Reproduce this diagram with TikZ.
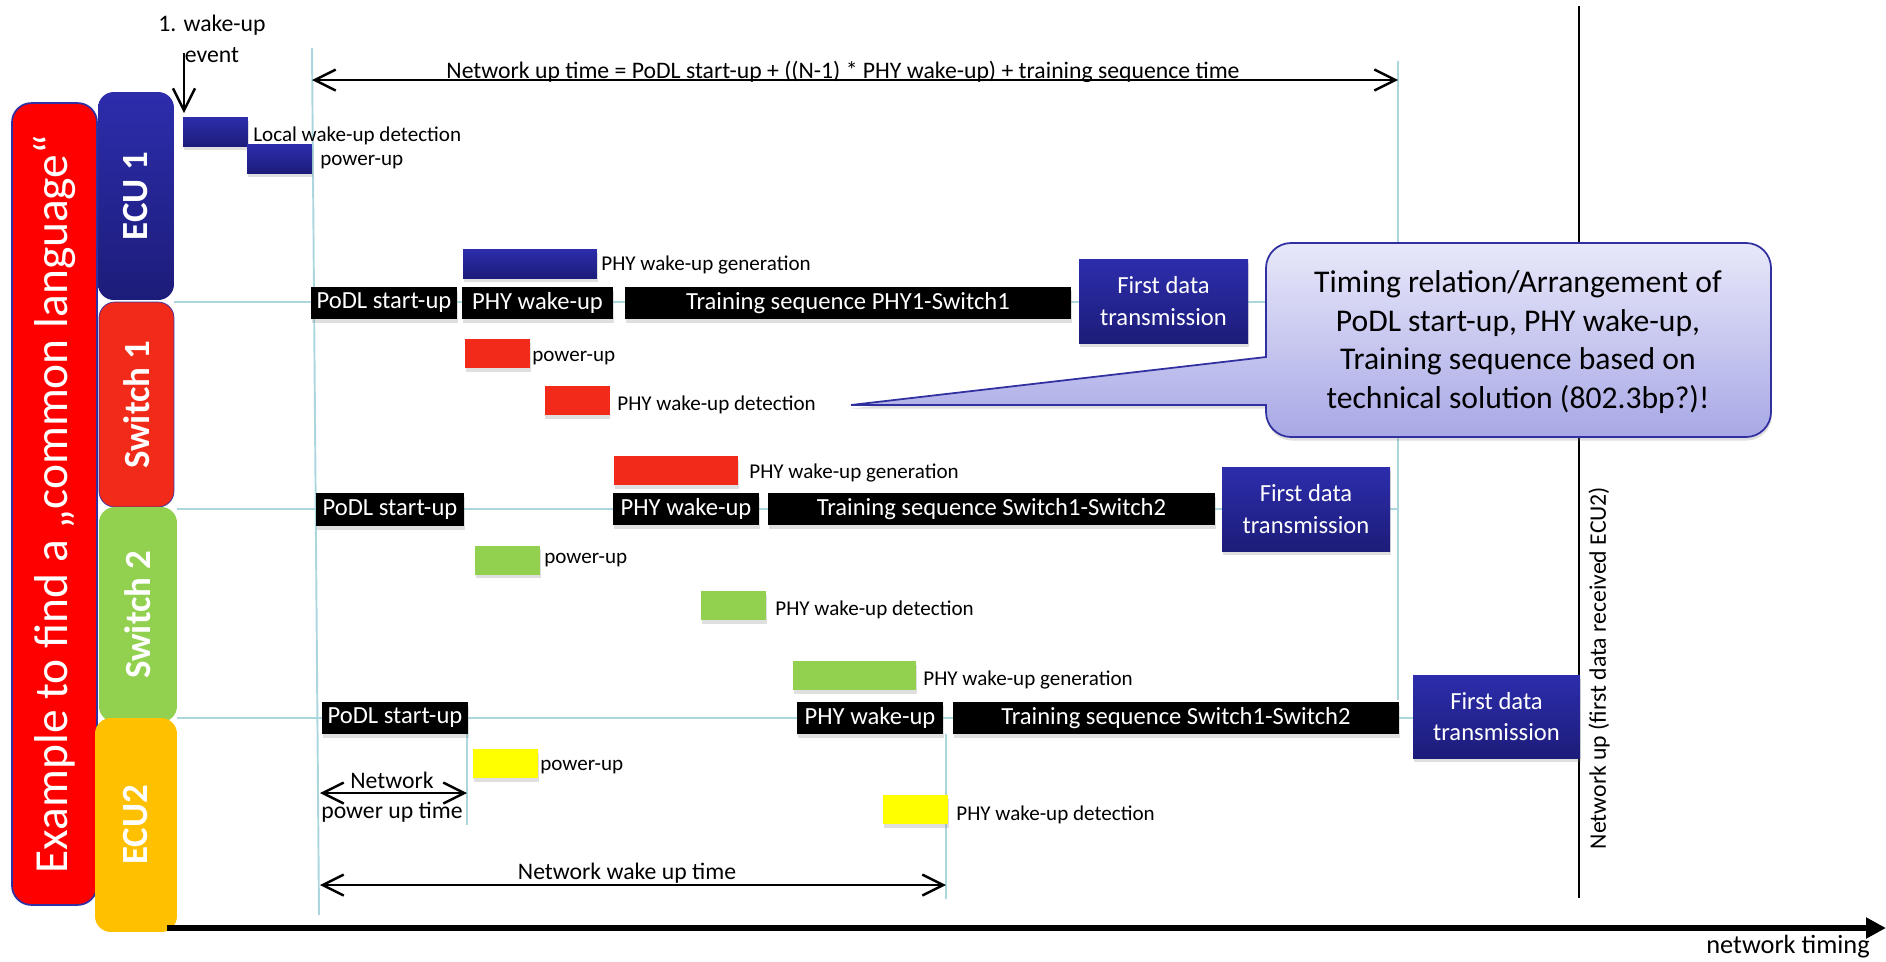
\documentclass[tikz,border=0pt]{standalone}
\usepackage{fontspec}
\setmainfont{Carlito}
\usepackage{tikz}
\usetikzlibrary{arrows.meta,shadows}
\definecolor{barbluetop}{RGB}{45,45,172}
\definecolor{barbluebot}{RGB}{28,28,122}
\definecolor{switchred}{RGB}{242,42,26}
\definecolor{langred}{RGB}{255,0,0}
\definecolor{switchgreen}{RGB}{146,208,80}
\definecolor{ecuorange}{RGB}{255,192,0}
\definecolor{ecuyellow}{RGB}{255,255,0}
\definecolor{gridteal}{RGB}{172,214,222}
\definecolor{notetop}{RGB}{232,232,250}
\definecolor{notebottom}{RGB}{168,168,230}
\definecolor{noteedge}{RGB}{48,48,160}

\begin{document}
\begin{tikzpicture}[x=0.02cm, y=-0.02cm,
    every node/.style={font=\fontsize{13.5}{16}\selectfont},
    soft/.style={drop shadow={shadow xshift=0.5pt, shadow yshift=-2pt, opacity=0.25}},
    bluefill/.style={top color=barbluetop, bottom color=barbluebot},
    lane/.style={rotate=90, rounded corners=9pt, inner sep=0pt, text=white, font=\fontsize{21}{24}\selectfont\bfseries},
    blip/.style={minimum width=1.3cm, minimum height=0.58cm, inner sep=0pt, soft},
    blipnote/.style={anchor=west, inner sep=0pt, font=\fontsize{12}{14}\selectfont},
    phase/.style={fill=black, text=white, inner sep=0pt, minimum height=0.64cm, soft, font=\fontsize{14}{16}\selectfont},
    datatx/.style={bluefill, text=white, align=center, inner sep=0pt, minimum width=3.38cm, minimum height=1.68cm, font=\fontsize{14}{18}\selectfont, soft},
    guide/.style={draw=gridteal, line width=1.1pt},
    span/.style={<->, >={Straight Barb[length=0.42cm,width=0.42cm]}, line width=1.4pt}
]
    \useasboundingbox (0,0) rectangle (1886,961);

    % Guide lines behind the time bars
    \coordinate (g0t) at (312,48);   \coordinate (g0b) at (319,915);
    \coordinate (g1t) at (1398,61);  \coordinate (g1b) at (1398,700);
    \coordinate (h1a) at (174,302);  \coordinate (h1b) at (1398,302);
    \coordinate (h2a) at (177,509);  \coordinate (h2b) at (1398,509);
    \coordinate (h3a) at (177,718);  \coordinate (h3b) at (1413,718);
    \coordinate (v2a) at (467,734);  \coordinate (v2b) at (467,825);
    \coordinate (v3a) at (946,734);  \coordinate (v3b) at (946,899);
    \draw[guide] (g0t) -- (g0b);
    \draw[guide] (g1t) -- (g1b);
    \draw[guide] (h1a) -- (h1b);
    \draw[guide] (h2a) -- (h2b);
    \draw[guide] (h3a) -- (h3b);
    \draw[guide] (v2a) -- (v2b);
    \draw[guide] (v3a) -- (v3b);

    % Network up marker
    \coordinate (up-a) at (1579,6); \coordinate (up-b) at (1579,898);
    \draw[line width=1.4pt] (up-a) -- (up-b);
    \node[rotate=90] (netup) at (1599,668) {Network up (first data received ECU2)};

    % Lanes on the left
    \node[lane, fill=langred, draw=noteedge, line width=1pt, rounded corners=11pt, minimum width=16.04cm, minimum height=1.7cm, font=\fontsize{27}{30}\selectfont] (lang) at (54.5,504) {Example to find a „common language“};
    \node[lane, top color=barbluetop, bottom color=barbluebot, minimum width=4.16cm, minimum height=1.52cm] (ecu1) at (136,196) {ECU 1};
    \node[lane, fill=switchred, draw=noteedge, minimum width=4.1cm, minimum height=1.5cm] (sw1) at (136.5,404.5) {Switch 1};
    \node[lane, fill=switchgreen, minimum width=4.3cm, minimum height=1.56cm] (sw2) at (138,614.5) {Switch 2};
    \node[lane, fill=ecuorange, minimum width=4.28cm, minimum height=1.64cm] (ecu2) at (136,825) {ECU2};

    % Time axis
    \coordinate (t0) at (167,928); \coordinate (t1) at (1886,928);
    \draw[line width=3.4pt, -{Triangle[length=0.4cm,width=0.4cm]}] (t0) -- (t1);
    \node[font=\fontsize{15}{18}\selectfont] (timing) at (1788,947) {network timing};

    % Wake-up event
    \node[align=center, inner sep=0pt, font=\fontsize{13.5}{18}\selectfont] (event) at (212,39) {1. wake-up\\event};
    \coordinate (ev-a) at (184,53); \coordinate (ev-b) at (184,113);
    \draw[->, >={Straight Barb[length=0.44cm,width=0.44cm]}, line width=1.4pt] (ev-a) -- (ev-b);

    % Overall network up time
    \coordinate (nut-a) at (312,80); \coordinate (nut-b) at (1398,80);
    \draw[span] (nut-a) -- (nut-b);
    \node[anchor=base, inner sep=0pt] (nut) at (843,78) {Network up time = PoDL start-up + ((N-1) * PHY wake-up) + training sequence time};

    % ECU 1 row
    \node[blip, bluefill] (lwd) at (215.5,132) {};
    \node[blipnote] (lwd-txt) at (253,136) {Local wake-up detection};
    \node[blip, bluefill] (pwr1) at (279.5,159) {};
    \node[blipnote] (pwr1-txt) at (320,162) {power-up};
    \node[blip, bluefill, minimum width=2.68cm] (gen1) at (530,263.5) {};
    \node[blipnote] (gen1-txt) at (601,265) {PHY wake-up generation};
    \node[phase, minimum width=2.92cm] (podl1) at (384,303) {PoDL start-up};
    \node[phase, minimum width=3.02cm] (phy1) at (537.5,303) {PHY wake-up};
    \node[phase, minimum width=8.92cm] (train1) at (848,303) {Training sequence PHY1-Switch1};
    \node[datatx] (first1) at (1163.5,301) {First data\\transmission};

    % Switch 1 row
    \node[blip, fill=switchred] (pwr2) at (497.5,353.5) {};
    \node[blipnote] (pwr2-txt) at (532,358) {power-up};
    \node[blip, fill=switchred] (det2) at (577,400.5) {};
    \node[blipnote] (det2-txt) at (617,405) {PHY wake-up detection};
    \node[blip, fill=switchred, minimum width=2.48cm] (gen2) at (676,470.5) {};
    \node[blipnote] (gen2-txt) at (749,473) {PHY wake-up generation};
    \node[phase, minimum width=2.96cm, minimum height=0.66cm] (podl2) at (390,509.5) {PoDL start-up};
    \node[phase, minimum width=2.92cm] (phy2) at (686,509) {PHY wake-up};
    \node[phase, minimum width=8.94cm] (train2) at (991.5,509) {Training sequence Switch1-Switch2};
    \node[datatx, minimum width=3.36cm] (first2) at (1306,509) {First data\\transmission};

    % Switch 2 row
    \node[blip, fill=switchgreen] (pwr3) at (507.5,560) {};
    \node[blipnote] (pwr3-txt) at (544,560) {power-up};
    \node[blip, fill=switchgreen] (det3) at (733.5,605.5) {};
    \node[blipnote] (det3-txt) at (775,610) {PHY wake-up detection};
    \node[blip, fill=switchgreen, minimum width=2.46cm] (gen3) at (854.5,675.5) {};
    \node[blipnote] (gen3-txt) at (923,680) {PHY wake-up generation};
    \node[phase, minimum width=2.92cm] (podl3) at (395,718) {PoDL start-up};
    \node[phase, minimum width=2.92cm] (phy3) at (870,718) {PHY wake-up};
    \node[phase, minimum width=8.92cm] (train3) at (1176,718) {Training sequence Switch1-Switch2};
    \node[datatx, minimum width=3.34cm, minimum height=1.66cm] (first3) at (1496.5,716.5) {First data\\transmission};

    % ECU2 row
    \node[blip, fill=ecuyellow] (pwr4) at (505.5,763.5) {};
    \node[blipnote] (pwr4-txt) at (540,767) {power-up};
    \node[blip, fill=ecuyellow] (det4) at (915.5,809.5) {};
    \node[blipnote] (det4-txt) at (956,815) {PHY wake-up detection};

    % Power up and wake up spans
    \coordinate (npt-a) at (320,793); \coordinate (npt-b) at (467,793);
    \draw[span] (npt-a) -- (npt-b);
    \node[inner sep=0pt] (npt-top) at (392,780) {Network};
    \node[inner sep=0pt] (npt-bot) at (392,812) {power up time};
    \coordinate (nwt-a) at (320,885); \coordinate (nwt-b) at (946,885);
    \draw[span] (nwt-a) -- (nwt-b);
    \node[inner sep=0pt] (nwt) at (627,873) {Network wake up time};

    % Callout
    \coordinate (tip) at (851,405);
    \path[draw=noteedge, line width=1pt, top color=notetop, bottom color=notebottom, soft]
        (1266,357) [rounded corners=0.5cm] -- (1266,243) -- (1771,243) -- (1771,437) -- (1266,437) [sharp corners] -- (1266,405) -- (tip) -- cycle;
    \node[align=center, inner sep=0pt, font=\fontsize{18}{22}\selectfont] (note) at (1518,342) {Timing relation/Arrangement of\\PoDL start-up, PHY wake-up,\\Training sequence based on\\technical solution (802.3bp?)!};
\end{tikzpicture}
\end{document}
